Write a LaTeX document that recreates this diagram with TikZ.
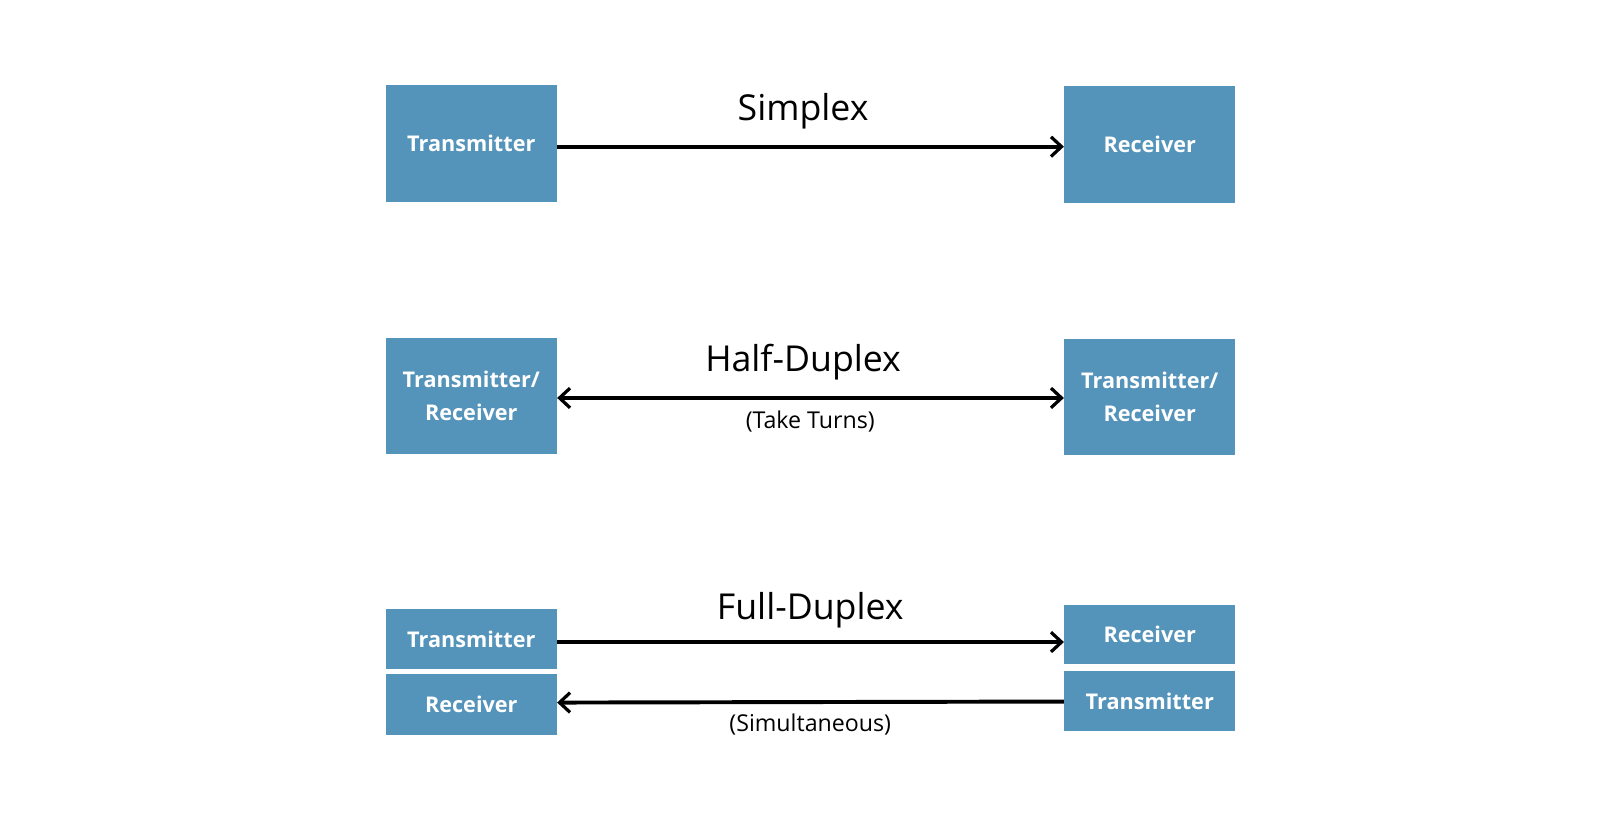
\documentclass[tikz,border=0pt]{standalone}
\usepackage{fontspec}
\setmainfont{Open Sans}
\usetikzlibrary{arrows.meta}
\definecolor{boxblue}{HTML}{5594BA}
\begin{document}
\begin{tikzpicture}[x=0.02565cm,y=-0.02565cm,
      box/.style={fill=boxblue, text=white, font=\fontsize{15.4}{24}\selectfont\bfseries,
        align=center, inner sep=0pt, minimum width=4.28cm},
      tall/.style={box, minimum height=2.92cm},
      flat/.style={box, minimum height=1.48cm},
      title/.style={font=\fontsize{25.4}{28}\selectfont},
      note/.style={font=\fontsize{16.5}{19}\selectfont},
      tip/.tip={Straight Barb[length=7.5pt,width=14pt,line width=2.3pt]},
      link/.style={line width=2.8pt, -tip},
      >=stealth
      ]
  \useasboundingbox (0,0) rectangle (1560,819);

  % Simplex
  \node[tall] (st) at (459.5,140) {Transmitter};
  \node[tall] (sr) at (1121,141) {Receiver};
  \node[title] (sl) at (783,108) {Simplex};

  % Half-Duplex
  \node[tall] (ht) at (459.5,386) {Transmitter/\\Receiver};
  \node[tall] (hr) at (1121,387) {Transmitter/\\Receiver};
  \node[title] (hl) at (783,353) {Half-Duplex};
  \node[note] (hn) at (790,411) {(Take Turns)};

  % Full-Duplex
  \node[flat] (ft) at (459.5,623) {Transmitter};
  \node[flat, minimum height=1.54cm] (fr) at (459.5,687) {Receiver};
  \node[flat] (gr) at (1121,619) {Receiver};
  \node[flat, minimum height=1.51cm] (gt) at (1121,683.5) {Transmitter};
  \node[title] (fl) at (790,595) {Full-Duplex};
  \node[note] (fn) at (790,706) {(Simultaneous)};

  % Connect the nodes
  \draw[link] (st.east |- 0,143) -- (sr.west |- 0,143);
  \draw[link, tip-tip] (ht.east |- 0,388) -- (hr.west |- 0,388);
  \draw[link] (ft.east |- 0,626) -- (gr.west |- 0,626);
  \draw[link] (gt.west |- 0,684) -- (fr.east |- 0,685);
\end{tikzpicture}
\end{document}
